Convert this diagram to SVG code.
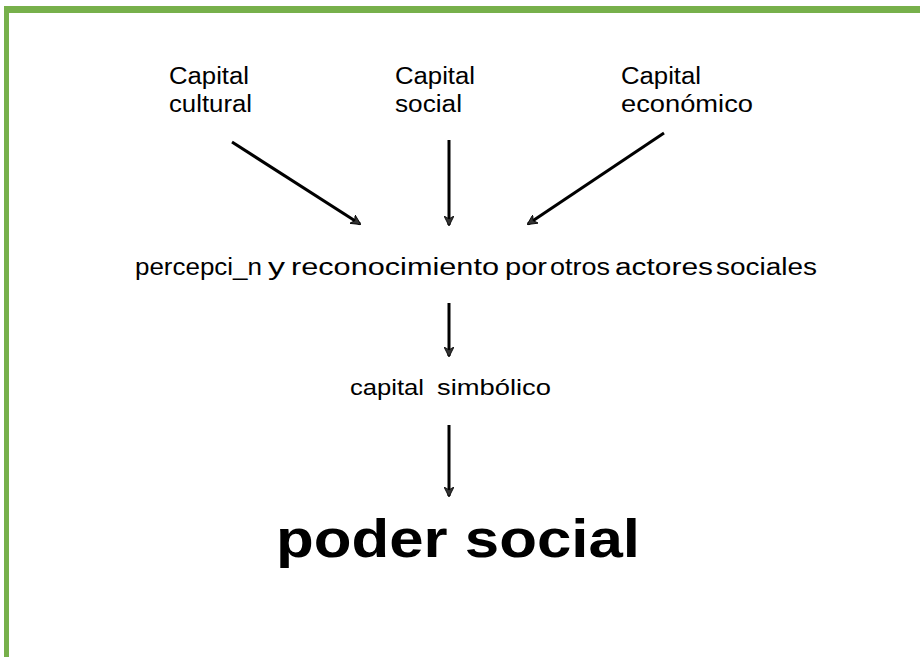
<svg xmlns="http://www.w3.org/2000/svg" width="920" height="657" viewBox="0 0 920 657">
<style>
.t{font-family:"Liberation Sans",Arial,sans-serif;fill:#000}
.c{stroke:#000;stroke-width:3;fill:none}
</style>
<defs>
<marker id="ah" viewBox="0 0 10 10" refX="9" refY="5" markerWidth="3.4" markerHeight="3.4" orient="auto" markerUnits="strokeWidth">
<path d="M0,0 L10,5 L0,10 L3,5 Z" fill="#333" stroke="#000" stroke-width="0.8"/>
</marker>
</defs>
<rect x="0" y="0" width="920" height="657" fill="#fff"/>
<rect x="4" y="6" width="916" height="7" fill="#77b04b"/>
<rect x="4" y="6" width="5" height="651" fill="#77b04b"/>
<g id="connectors">
<line class="c" x1="232" y1="142" x2="360" y2="224" marker-end="url(#ah)"/>
<line class="c" x1="449" y1="140" x2="449" y2="225" marker-end="url(#ah)"/>
<line class="c" x1="664" y1="133" x2="528" y2="224" marker-end="url(#ah)"/>
<line class="c" x1="449" y1="303" x2="449" y2="356" marker-end="url(#ah)"/>
<line class="c" x1="449" y1="425" x2="449" y2="496" marker-end="url(#ah)"/>
</g>
<g id="capital-cultural">
<text class="t" x="169" y="84" font-size="23" textLength="80" lengthAdjust="spacingAndGlyphs">Capital</text>
<text class="t" x="169" y="112" font-size="23" textLength="83" lengthAdjust="spacingAndGlyphs">cultural</text>
</g>
<g id="capital-social">
<text class="t" x="395" y="84" font-size="23" textLength="80" lengthAdjust="spacingAndGlyphs">Capital</text>
<text class="t" x="395" y="112" font-size="23" textLength="67" lengthAdjust="spacingAndGlyphs">social</text>
</g>
<g id="capital-economico">
<text class="t" x="621" y="84" font-size="23" textLength="80" lengthAdjust="spacingAndGlyphs">Capital</text>
<text class="t" x="621" y="112" font-size="23" textLength="132" lengthAdjust="spacingAndGlyphs">económico</text>
</g>
<g id="percepcion">
<text class="t" x="135" y="275" font-size="23" textLength="127" lengthAdjust="spacingAndGlyphs">percepci_n</text>
<text class="t" x="268" y="275" font-size="23" textLength="17" lengthAdjust="spacingAndGlyphs">y</text>
<text class="t" x="291" y="275" font-size="23" textLength="208" lengthAdjust="spacingAndGlyphs">reconocimiento</text>
<text class="t" x="505" y="275" font-size="23" textLength="42" lengthAdjust="spacingAndGlyphs">por</text>
<text class="t" x="550" y="275" font-size="23" textLength="60" lengthAdjust="spacingAndGlyphs">otros</text>
<text class="t" x="615" y="275" font-size="23" textLength="98" lengthAdjust="spacingAndGlyphs">actores</text>
<text class="t" x="716" y="275" font-size="23" textLength="101" lengthAdjust="spacingAndGlyphs">sociales</text>
</g>
<g id="capital-simbolico">
<text class="t" x="350" y="395" font-size="22" textLength="74" lengthAdjust="spacingAndGlyphs">capital</text>
<text class="t" x="437" y="395" font-size="22" textLength="114" lengthAdjust="spacingAndGlyphs">simbólico</text>
</g>
<g id="poder-social">
<text class="t" x="276" y="557" font-size="54" font-weight="bold" textLength="364" lengthAdjust="spacingAndGlyphs">poder social</text>
</g>
</svg>
